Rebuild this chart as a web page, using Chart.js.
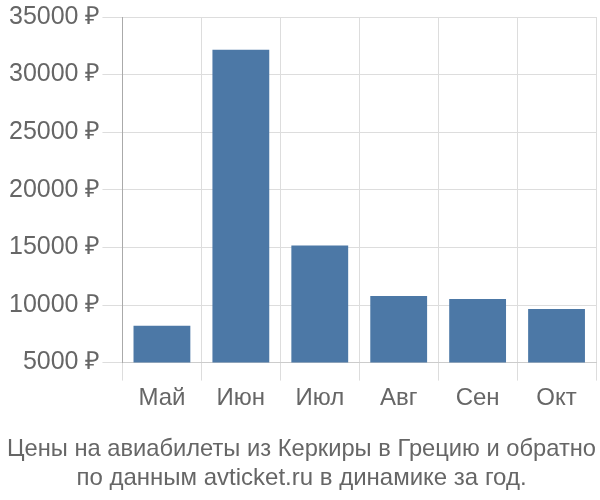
<!DOCTYPE html>
<html>
<head>
<meta charset="utf-8">
<script src="https://cdn.jsdelivr.net/npm/chart.js@4/dist/chart.umd.min.js"></script>
<style>
  html, body { margin: 0; padding: 0; background: #fff; }
  #wrap { width: 600px; height: 500px; }
</style>
</head>
<body>
<div id="wrap"><canvas id="priceChart"></canvas></div>
<script>
// Данные графика
const months = ['Май', 'Июн', 'Июл', 'Авг', 'Сен', 'Окт'];
const prices = [8190, 32150, 15170, 10780, 10520, 9660];
const titleLines = ['Цены на авиабилеты из Керкиры в Грецию и обратно', 'по данным avticket.ru в динамике за год.'];

const FONT = 'Liberation Sans, Arial, sans-serif';
const ctx = document.getElementById('priceChart').getContext('2d');

new Chart(ctx, {
    type: 'bar',
    data: {
        labels: months,
        datasets: [{
            data: prices,
            backgroundColor: '#4c78a6',
            borderWidth: 0,
            barPercentage: 0.72,
            categoryPercentage: 1
        }]
    },
    options: {
        responsive: true,
        maintainAspectRatio: false,
        animation: false,
        layout: { padding: { top: 0, right: 4, left: 7, bottom: 7 } },
        scales: {
            x: {
                grid: {
                    color: '#dddddd',
                    tickLength: 18
                },
                border: { color: '#cccccc' },
                ticks: {
                    color: '#666',
                    font: { family: FONT, size: 24 },
                    padding: 3
                }
            },
            y: {
                min: 5000,
                max: 35000,
                grid: {
                    color: '#dddddd',
                    tickLength: 20
                },
                border: { color: '#aaaaaa' },
                ticks: {
                    stepSize: 5000,
                    color: '#666',
                    padding: 2,
                    font: { family: FONT, size: 25 },
                    callback: (v) => v + ' ₽'
                }
            }
        },
        plugins: {
            legend: { display: false },
            tooltip: { enabled: false },
            title: {
                display: true,
                position: 'bottom',
                text: titleLines,
                color: '#666',
                font: { family: FONT, size: 24, weight: 'normal' },
                padding: { top: 20, bottom: 0 },
                lineHeight: 1.13
            }
        }
    }
});
</script>
</body>
</html>
